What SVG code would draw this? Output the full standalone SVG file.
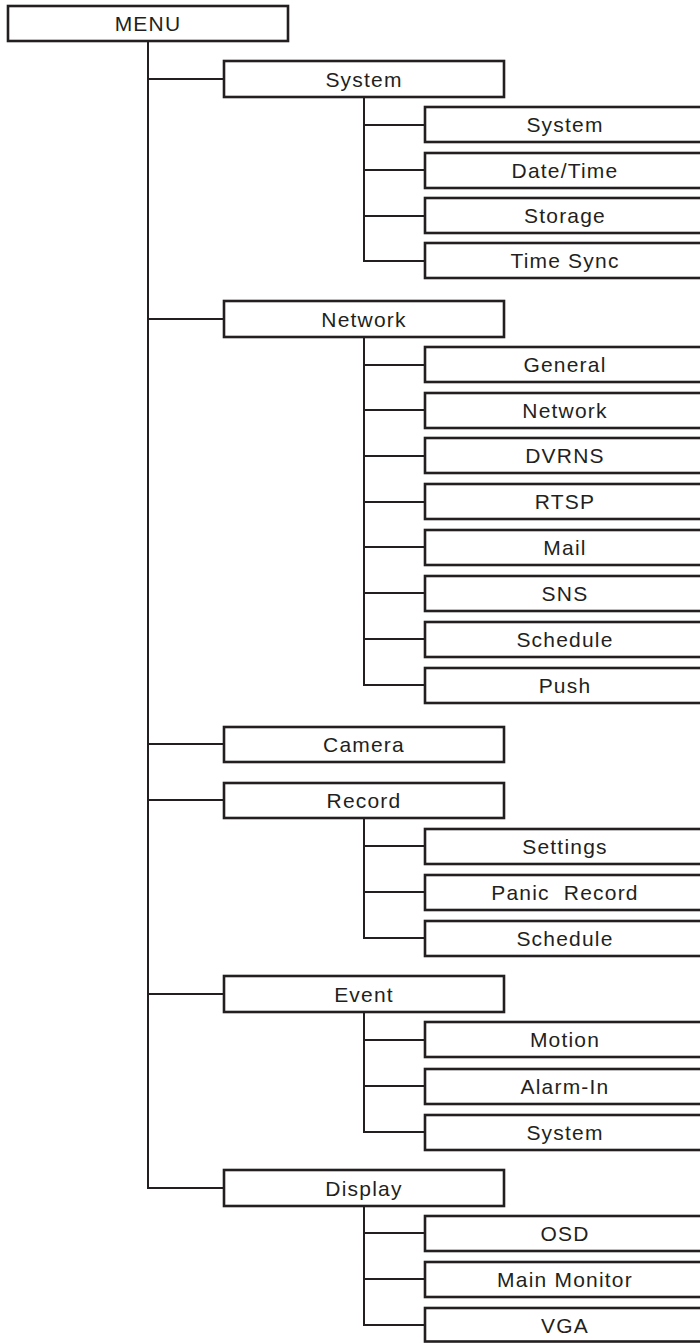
<svg xmlns="http://www.w3.org/2000/svg" width="700" height="1343" viewBox="0 0 700 1343">
<style>
.box{fill:#fff;stroke:#231f20;stroke-width:2.6}
.lbl{font-family:"Liberation Sans",Arial,sans-serif;font-size:21px;letter-spacing:1.2px;fill:#231f20;text-anchor:middle}
.c{fill:none;stroke:#231f20;stroke-width:2}
</style>
<rect width="700" height="1343" fill="#fff"/>
<g id="connectors">
<path class="c" d="M148 41V1188H224M148 79H224M148 319H224M148 744H224M148 800H224M148 994H224"/>
<path class="c" d="M364 97V261H425M364 125H425M364 170H425M364 216H425"/>
<path class="c" d="M364 337V685H425M364 365H425M364 410H425M364 456H425M364 502H425M364 547H425M364 593H425M364 639H425"/>
<path class="c" d="M364 818V938H425M364 846H425M364 892H425"/>
<path class="c" d="M364 1012V1132H425M364 1040H425M364 1086H425"/>
<path class="c" d="M364 1206V1325H425M364 1233H425M364 1279H425"/>
</g>
<g id="menu"><rect class="box" x="8" y="6" width="280" height="35"/><text class="lbl" x="148" y="31">MENU</text></g>
<g id="system"><rect class="box" x="224" y="61" width="280" height="36"/><text class="lbl" x="364" y="87">System</text></g>
<g id="sys-system"><rect class="box" x="425" y="107" width="282" height="35"/><text class="lbl" x="565" y="132">System</text></g>
<g id="sys-datetime"><rect class="box" x="425" y="153" width="282" height="35"/><text class="lbl" x="565" y="178">Date/Time</text></g>
<g id="sys-storage"><rect class="box" x="425" y="198" width="282" height="35"/><text class="lbl" x="565" y="223">Storage</text></g>
<g id="sys-timesync"><rect class="box" x="425" y="243" width="282" height="35"/><text class="lbl" x="565" y="268">Time Sync</text></g>
<g id="network"><rect class="box" x="224" y="301" width="280" height="36"/><text class="lbl" x="364" y="327">Network</text></g>
<g id="net-general"><rect class="box" x="425" y="347" width="282" height="35"/><text class="lbl" x="565" y="372">General</text></g>
<g id="net-network"><rect class="box" x="425" y="393" width="282" height="35"/><text class="lbl" x="565" y="418">Network</text></g>
<g id="net-dvrns"><rect class="box" x="425" y="438" width="282" height="35"/><text class="lbl" x="565" y="463">DVRNS</text></g>
<g id="net-rtsp"><rect class="box" x="425" y="484" width="282" height="35"/><text class="lbl" x="565" y="509">RTSP</text></g>
<g id="net-mail"><rect class="box" x="425" y="530" width="282" height="35"/><text class="lbl" x="565" y="555">Mail</text></g>
<g id="net-sns"><rect class="box" x="425" y="576" width="282" height="35"/><text class="lbl" x="565" y="601">SNS</text></g>
<g id="net-schedule"><rect class="box" x="425" y="622" width="282" height="35"/><text class="lbl" x="565" y="647">Schedule</text></g>
<g id="net-push"><rect class="box" x="425" y="668" width="282" height="35"/><text class="lbl" x="565" y="693">Push</text></g>
<g id="camera"><rect class="box" x="224" y="727" width="280" height="35"/><text class="lbl" x="364" y="752">Camera</text></g>
<g id="record"><rect class="box" x="224" y="783" width="280" height="35"/><text class="lbl" x="364" y="808">Record</text></g>
<g id="rec-settings"><rect class="box" x="425" y="829" width="282" height="35"/><text class="lbl" x="565" y="854">Settings</text></g>
<g id="rec-panic"><rect class="box" x="425" y="875" width="282" height="35"/><text class="lbl" x="565" y="900" xml:space="preserve">Panic  Record</text></g>
<g id="rec-schedule"><rect class="box" x="425" y="921" width="282" height="35"/><text class="lbl" x="565" y="946">Schedule</text></g>
<g id="event"><rect class="box" x="224" y="976" width="280" height="36"/><text class="lbl" x="364" y="1002">Event</text></g>
<g id="evt-motion"><rect class="box" x="425" y="1022" width="282" height="35"/><text class="lbl" x="565" y="1047">Motion</text></g>
<g id="evt-alarmin"><rect class="box" x="425" y="1069" width="282" height="35"/><text class="lbl" x="565" y="1094">Alarm-In</text></g>
<g id="evt-system"><rect class="box" x="425" y="1115" width="282" height="35"/><text class="lbl" x="565" y="1140">System</text></g>
<g id="display"><rect class="box" x="224" y="1170" width="280" height="36"/><text class="lbl" x="364" y="1196">Display</text></g>
<g id="dsp-osd"><rect class="box" x="425" y="1216" width="282" height="35"/><text class="lbl" x="565" y="1241">OSD</text></g>
<g id="dsp-main"><rect class="box" x="425" y="1262" width="282" height="35"/><text class="lbl" x="565" y="1287">Main Monitor</text></g>
<g id="dsp-vga"><rect class="box" x="425" y="1308" width="282" height="33.5"/><text class="lbl" x="565" y="1333">VGA</text></g>
</svg>
